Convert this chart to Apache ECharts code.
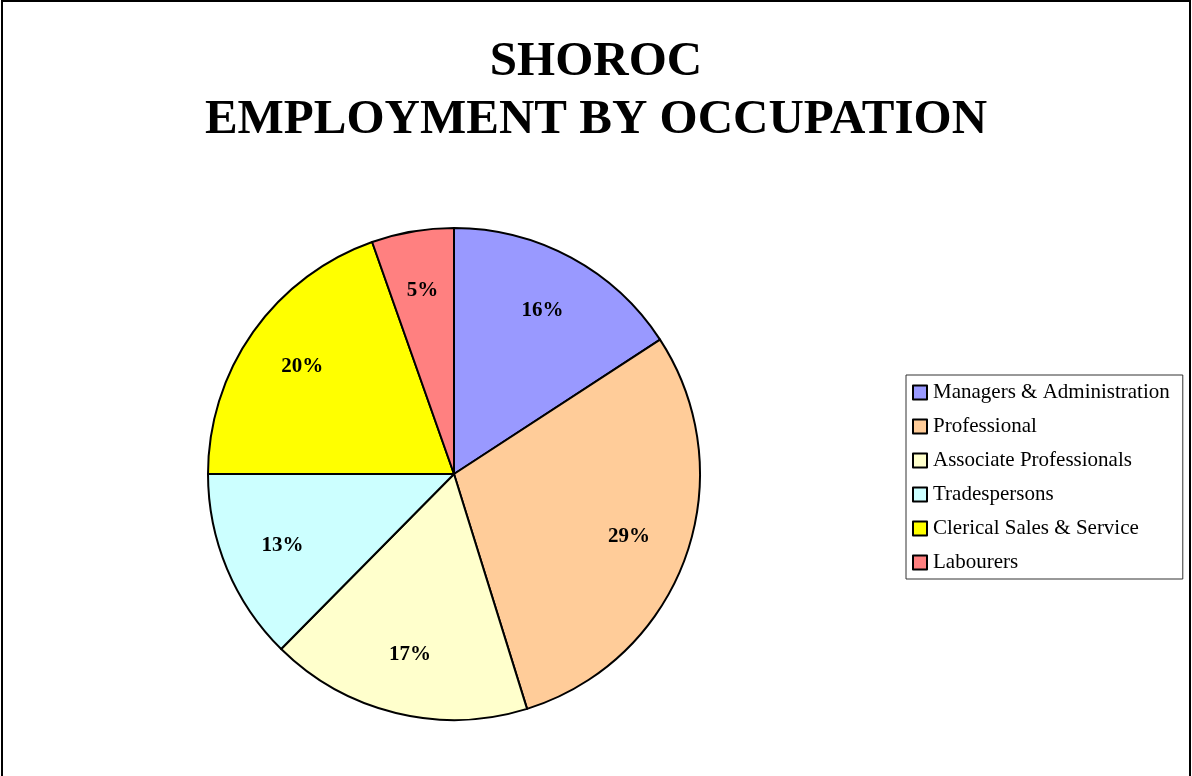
<!DOCTYPE html>
<html>
<head>
<meta charset="utf-8">
<script src="https://cdn.jsdelivr.net/npm/echarts@6/dist/echarts.min.js"></script>
<style>
  html, body { margin: 0; padding: 0; background: #fff; }
  #chart { width: 1192px; height: 776px; }
</style>
</head>
<body>
<div id="chart"></div>
<script>
// occupations, clockwise from 12 o'clock
const categories = [
    'Managers & Administration',
    'Professional',
    'Associate Professionals',
    'Tradespersons',
    'Clerical Sales & Service',
    'Labourers'
];
const shares = [15.8, 29.4, 17.2, 12.6, 19.6, 5.4];
const colors = ['#9999FF', '#FFCC99', '#FFFFCC', '#CCFFFF', '#FFFF00', '#FF8080'];

const total = shares.reduce((a, b) => a + b, 0);
const serif = '"Liberation Serif", "Times New Roman", serif';

const pieData = categories.map((name, i) => ({
    name: name,
    value: shares[i],
    itemStyle: { color: colors[i] }
}));

const chart = echarts.init(document.getElementById('chart'));

chart.setOption({
    animation: false,
    title: {
        text: 'SHOROC\nEMPLOYMENT BY OCCUPATION',
        left: 'center',
        top: 28,
        textStyle: {
            fontFamily: serif,
            fontWeight: 'bold',
            fontSize: 49,
            lineHeight: 58,
            color: '#000'
        }
    },
    legend: {
        data: categories,
        orient: 'vertical',
        left: 906,
        top: 375,
        padding: [7, 13, 6, 6],
        itemGap: 13,
        itemWidth: 14,
        itemHeight: 14,
        icon: 'rect',
        borderColor: '#333',
        borderWidth: 1,
        itemStyle: { borderColor: '#000', borderWidth: 2 },
        textStyle: {
            fontFamily: serif,
            fontSize: 21,
            lineHeight: 21,
            color: '#000',
            padding: [0, 0, 0, 1]
        }
    },
    graphic: [{
        type: 'rect',
        silent: true,
        shape: { x: 2, y: 1, width: 1188, height: 800 },
        style: { fill: 'none', stroke: '#000', lineWidth: 2 }
    }],
    series: [
        {
            type: 'pie',
            center: [454, 474],
            radius: [0, 246],
            startAngle: 90,
            clockwise: true,
            silent: true,
            itemStyle: { borderColor: '#000', borderWidth: 2 },
            label: { show: false },
            labelLine: { show: false },
            data: pieData
        },
        {
            // ring only used to place the percent labels further out
            type: 'pie',
            center: [454, 474],
            radius: [120, 246],
            startAngle: 90,
            clockwise: true,
            silent: true,
            itemStyle: { color: 'rgba(0,0,0,0)', borderWidth: 0 },
            label: {
                show: true,
                position: 'inside',
                fontFamily: serif,
                fontWeight: 'bold',
                fontSize: 21,
                color: '#000',
                formatter: p => Math.round(p.value / total * 100) + '%'
            },
            labelLine: { show: false },
            data: categories.map((name, i) => ({ name: name, value: shares[i] }))
        }
    ]
});
</script>
</body>
</html>
